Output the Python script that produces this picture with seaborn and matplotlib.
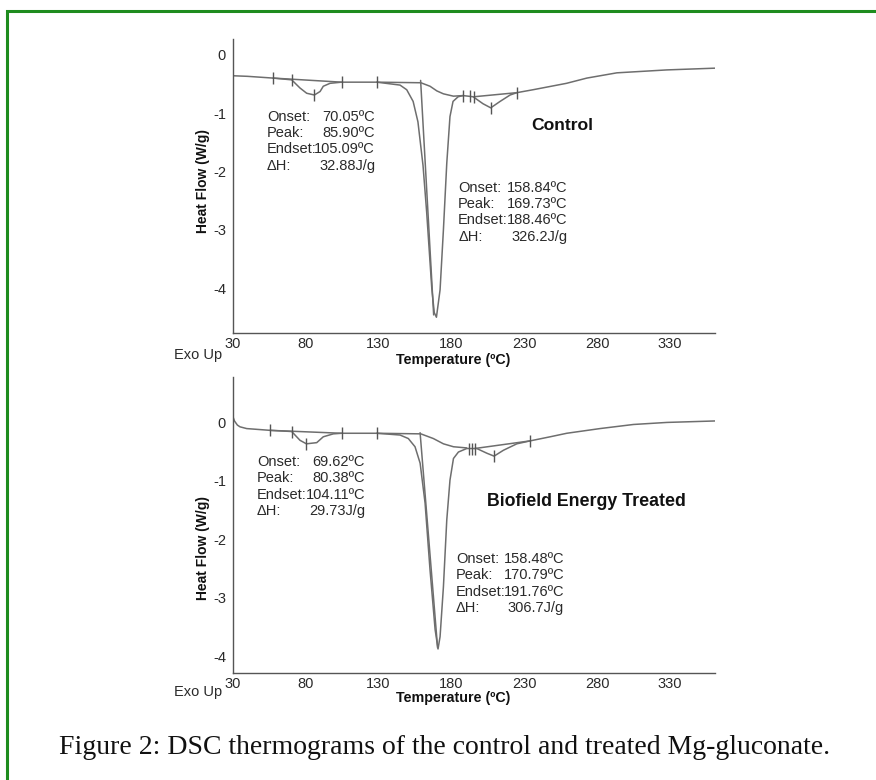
import numpy as np
import pandas as pd
import matplotlib
matplotlib.use("Agg")
import matplotlib.pyplot as plt
import matplotlib.patches as patches
from matplotlib.ticker import MultipleLocator, FixedLocator
import seaborn as sns

# ---------------- data ----------------
ctrl_T = [30, 40, 57.5, 70.3, 76, 80.6, 85.9, 89.8, 92, 96.6, 104.6, 128.7, 144.7, 149.3,
          153.7, 157, 160.5, 163, 166.5, 168.2, 169.7, 172.2, 174.5, 176.8, 179, 181.1,
          184.6, 188, 194.9, 201.7, 207, 213.4, 220.3, 224.9, 236, 259, 273, 293.6, 327.9, 361]
ctrl_HF = [-0.36, -0.37, -0.40, -0.43, -0.57, -0.66, -0.69, -0.63, -0.54, -0.49, -0.47, -0.47,
           -0.52, -0.60, -0.80, -1.15, -1.90, -2.70, -4.00, -4.42, -4.50, -4.03, -3.00, -1.86,
           -1.06, -0.80, -0.72, -0.70, -0.72, -0.84, -0.91, -0.80, -0.69, -0.65, -0.60, -0.49,
           -0.40, -0.31, -0.26, -0.23]
ctrl_base1_T = [57.5, 104.6]
ctrl_base1_HF = [-0.40, -0.47]
ctrl_base2_T = [128.7, 159, 165.3, 170, 174.5, 181.4, 188]
ctrl_base2_HF = [-0.47, -0.48, -0.54, -0.62, -0.67, -0.71, -0.70]
ctrl_tan_T = [158.84, 167.8]
ctrl_tan_HF = [-0.44, -4.46]
ctrl_base3_T = [195.5, 224.9]
ctrl_base3_HF = [-0.72, -0.65]
ctrl_mark_T = [57.5, 70.3, 85.9, 104.6, 128.7, 188, 192.5, 195.5, 207, 224.9]
ctrl_mark_HF = [-0.40, -0.43, -0.69, -0.47, -0.47, -0.70, -0.71, -0.72, -0.91, -0.65]

trt_T = [30, 31, 33, 34.8, 39.4, 55.4, 70.3, 76, 80.4, 87.5, 92, 98.9, 104.6, 128.7, 144.7,
         150.4, 155, 158.5, 161.9, 165.3, 168.8, 170.8, 172.2, 174.5, 176.8, 179, 181.4,
         184.8, 190.5, 197.4, 204.3, 209.3, 215.7, 224.9, 234, 247.8, 259.2, 282, 305, 328, 361]
trt_HF = [0.09, 0.02, -0.05, -0.08, -0.11, -0.14, -0.16, -0.31, -0.37, -0.35, -0.25, -0.20,
          -0.19, -0.19, -0.22, -0.28, -0.42, -0.70, -1.38, -2.52, -3.54, -3.87, -3.66, -2.81,
          -1.67, -0.99, -0.62, -0.51, -0.45, -0.45, -0.53, -0.58, -0.48, -0.37, -0.32, -0.25,
          -0.19, -0.11, -0.04, -0.005, 0.02]
trt_base1_T = [55.4, 104.6]
trt_base1_HF = [-0.14, -0.19]
trt_base2_T = [128.7, 159, 167.6, 174.5, 181.4, 190.5]
trt_base2_HF = [-0.19, -0.20, -0.28, -0.37, -0.42, -0.44]
trt_tan_T = [158.48, 170.5]
trt_tan_HF = [-0.18, -3.85]
trt_base3_T = [196, 234]
trt_base3_HF = [-0.45, -0.32]
trt_mark_T = [55.4, 70.3, 80.4, 104.6, 128.7, 192, 194, 196, 209.3, 234]
trt_mark_HF = [-0.14, -0.16, -0.37, -0.19, -0.19, -0.45, -0.45, -0.45, -0.58, -0.32]

x_ticks = [30, 80, 130, 180, 230, 280, 330]
y_ticks = [0, -1, -2, -3, -4]

ctrl_labels = ["Onset:", "Peak:", "Endset:", "\u0394H:"]
ctrl_vals1 = ["70.05\u00baC", "85.90\u00baC", "105.09\u00baC", "32.88J/g"]
ctrl_vals2 = ["158.84\u00baC", "169.73\u00baC", "188.46\u00baC", "326.2J/g"]
trt_vals1 = ["69.62\u00baC", "80.38\u00baC", "104.11\u00baC", "29.73J/g"]
trt_vals2 = ["158.48\u00baC", "170.79\u00baC", "191.76\u00baC", "306.7J/g"]

# ---------------- style ----------------
sns.set_style("white")
plt.rcParams["font.family"] = ["Liberation Sans", "DejaVu Sans"]
plt.rcParams["axes.unicode_minus"] = False

W, H = 876, 780
fig = plt.figure(figsize=(W / 100, H / 100), dpi=100)

def fx(px):
    return px / W

def fy(py):
    return 1 - py / H

LINE = "#6e6e6e"
TXT = "#2a2a2a"

def make_axes(top_px, bot_px, ylim):
    ax = fig.add_axes([fx(233), fy(bot_px), fx(715) - fx(233), fy(top_px) - fy(bot_px)])
    ax.set_xlim(30, 361)
    ax.set_ylim(*ylim)
    for s in ["top", "right"]:
        ax.spines[s].set_visible(False)
    for s in ["left", "bottom"]:
        ax.spines[s].set_color("#555555")
        ax.spines[s].set_linewidth(1.0)
    ax.xaxis.set_major_locator(FixedLocator(x_ticks))
    ax.xaxis.set_minor_locator(MultipleLocator(10))
    ax.yaxis.set_major_locator(FixedLocator(y_ticks))
    ax.yaxis.set_minor_locator(MultipleLocator(0.25))
    ax.tick_params(axis="x", which="major", direction="in", length=4, width=0.8,
                   color="#555555", labelsize=10.5, labelcolor=TXT, pad=3)
    ax.tick_params(axis="x", which="minor", direction="in", length=2.5, width=0.8, color="#555555")
    ax.tick_params(axis="y", which="major", direction="out", length=4, width=0.8,
                   color="#555555", labelsize=10.5, labelcolor=TXT, pad=1)
    ax.tick_params(axis="y", which="minor", direction="out", length=2, width=0.8, color="#555555")
    ax.set_xlabel("")
    ax.set_ylabel("")
    ax.grid(False)
    return ax

def draw_panel(ax, T, HF, b1, b2, tan, b3, marks):
    lw = 1.1
    sns.lineplot(x=T, y=HF, ax=ax, color=LINE, lw=lw, sort=False, estimator=None)
    for (bx, by) in (b1, b2, tan, b3):
        sns.lineplot(x=bx, y=by, ax=ax, color=LINE, lw=lw, sort=False, estimator=None)
    ax.plot(marks[0], marks[1], ls="none", marker="|", ms=8, mew=1.0, color="#555555")
    ax.set_xlabel("")
    ax.set_ylabel("")

def block(ax, xl, xr, y0, step, vals):
    for i, (lab, v) in enumerate(zip(ctrl_labels, vals)):
        y = y0 - i * step
        ax.text(xl, y, lab, ha="left", va="center", fontsize=10.5, color=TXT)
        ax.text(xr, y, v, ha="right", va="center", fontsize=10.5, color=TXT)

# top panel (Control)
ax1 = make_axes(39, 333, (-4.77, 0.27))
draw_panel(ax1, ctrl_T, ctrl_HF, (ctrl_base1_T, ctrl_base1_HF), (ctrl_base2_T, ctrl_base2_HF),
           (ctrl_tan_T, ctrl_tan_HF), (ctrl_base3_T, ctrl_base3_HF), (ctrl_mark_T, ctrl_mark_HF))
block(ax1, 53.4, 127.6, -1.06, 0.28, ctrl_vals1)
block(ax1, 184.6, 259.5, -2.28, 0.28, ctrl_vals2)
ax1.text(256, -1.22, "Control", ha="center", va="center", fontsize=12.6, fontweight="bold", color="#111111")

# bottom panel (Treated)
ax2 = make_axes(377, 673, (-4.28, 0.77))
draw_panel(ax2, trt_T, trt_HF, (trt_base1_T, trt_base1_HF), (trt_base2_T, trt_base2_HF),
           (trt_tan_T, trt_tan_HF), (trt_base3_T, trt_base3_HF), (trt_mark_T, trt_mark_HF))
block(ax2, 46.5, 120.7, -0.68, 0.28, trt_vals1)
block(ax2, 183.2, 257.4, -2.33, 0.28, trt_vals2)
ax2.text(272.5, -1.36, "Biofield Energy Treated", ha="center", va="center", fontsize=12.8,
         fontweight="bold", color="#111111")

# axis labels
for ycen, yx, yexo in ((181, 360, 355), (548, 698, 692)):
    fig.text(fx(203), fy(ycen), "Heat Flow (W/g)", rotation=90, ha="center", va="center",
             fontsize=10, fontweight="bold", color="#111111")
    fig.text(fx(453), fy(yx), "Temperature (\u00baC)", ha="center", va="center",
             fontsize=10.3, fontweight="bold", color="#111111")
    fig.text(fx(222), fy(yexo), "Exo Up", ha="right", va="center", fontsize=10.5, color=TXT)

# caption
fig.text(fx(445), fy(748), "Figure 2: DSC thermograms of the control and treated Mg-gluconate.",
         ha="center", va="center", fontsize=20, color="#111111",
         family=["Liberation Serif", "DejaVu Serif"])

# green frame
fig.patches.append(patches.Rectangle((fx(7), -0.1), 2.0, fy(11) + 0.1, fill=False,
                                     edgecolor="#1e8c1e", lw=2.2, transform=fig.transFigure,
                                     clip_on=False))

fig.savefig("out.png", dpi=100, facecolor="white")
